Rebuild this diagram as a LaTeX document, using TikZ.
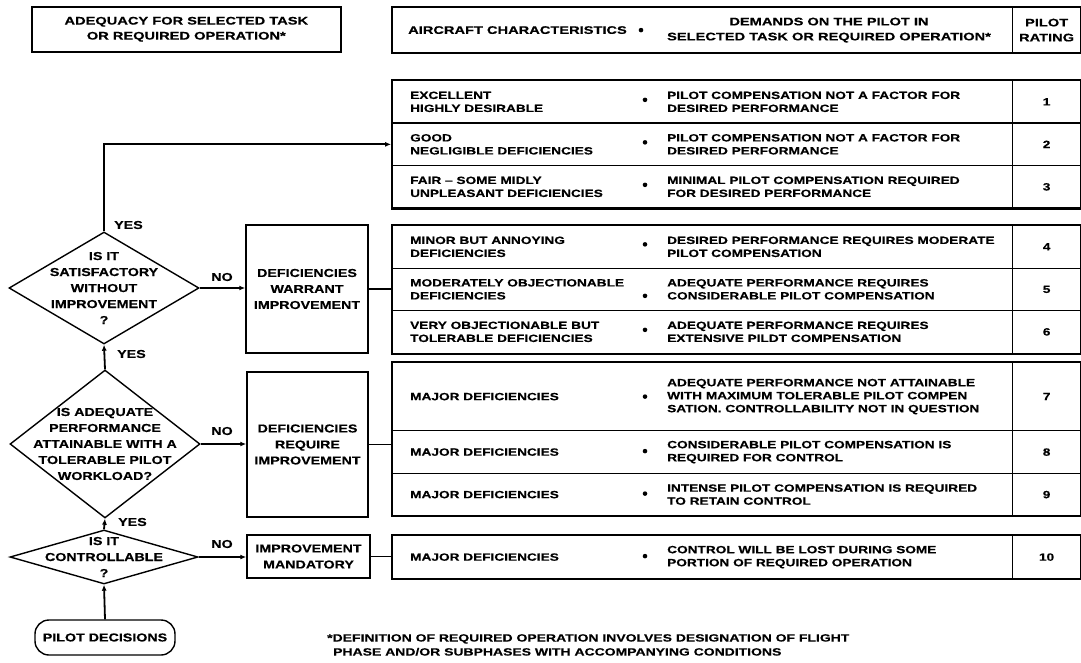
\documentclass[tikz,border=0pt]{standalone}
\usepackage{fontspec}
\setmainfont{Liberation Sans}
\newfontfamily\tabfont{Liberation Sans}[FakeStretch=1.3, FakeBold=0.4]
\newfontfamily\headfont{Liberation Sans}[FakeStretch=1.33, FakeBold=0.4]
\newfontfamily\flowfont{Liberation Sans}[FakeStretch=1.24, FakeBold=0.4]
\usetikzlibrary{shapes.geometric,arrows.meta,fit}

\tikzset{
  x=1pt, y=-1pt,
  tabtxt/.style={font=\tabfont\bfseries\fontsize{10.5}{13}\selectfont},
  headtxt/.style={font=\headfont\bfseries\fontsize{11}{15}\selectfont},
  flowtxt/.style={font=\flowfont\bfseries\fontsize{11.5}{16}\selectfont},
  cell/.style={draw, line width=1.2pt, inner sep=0pt, anchor=north west, minimum width=620pt},
  rate/.style={draw, line width=1.2pt, inner sep=0pt, anchor=north west, minimum width=68pt, tabtxt},
  grpframe/.style={draw, line width=1.8pt, inner sep=0pt},
  ltext/.style={tabtxt, anchor=west, align=left, inner sep=0pt},
  rtext/.style={tabtxt, anchor=west, align=left, inner sep=0pt},
  bul/.style={circle, fill, inner sep=0pt, minimum size=4.6pt},
  decision/.style={diamond, draw, line width=1.4pt, inner sep=0pt, minimum width=#1},
  qtext/.style={flowtxt, align=center, inner sep=0pt},
  flowbox/.style={draw, line width=1.5pt, inner sep=0pt, flowtxt, align=center},
  conn/.style={line width=1.8pt, -{Latex[length=6pt,width=5pt]}},
  link/.style={line width=1.8pt},
  answer/.style={flowtxt, inner sep=0pt},
}

% one row of the rating table: name, top, height, left text, right text, rating, bullet shift
\newcommand\ratingrow[7]{%
  \node[cell, minimum height=#3pt] (#1) at (392,#2) {};
  \node[rate, minimum height=#3pt] (#1n) at (1012,#2) {#6};
  \node[ltext] at ([xshift=18pt]#1.west) {#4};
  \node[rtext] at ([xshift=275pt]#1.west) {#5};
  \node[bul] at ([xshift=253pt,yshift=#7pt]#1.west) {};
}

\begin{document}
\begin{tikzpicture}
\useasboundingbox (0,0) rectangle (1081,663);

% column headings
\node[draw, line width=1.6pt, minimum width=309pt, minimum height=45pt, inner sep=0pt,
      anchor=north west, headtxt, align=center] (adq) at (31,6)
      {ADEQUACY FOR SELECTED TASK\\OR REQUIRED OPERATION*};

\node[cell, minimum height=45pt] (hc) at (392,7) {};
\node[rate, minimum height=45pt, headtxt, align=center] (hr) at (1012,7) {PILOT\\RATING};
\node[grpframe, fit=(hc)(hr)] (hdr) {};
\node[headtxt, anchor=west, inner sep=0pt] (hac) at ([xshift=16pt]hc.west) {AIRCRAFT CHARACTERISTICS};
\node[bul] at ([xshift=249pt]hc.west) {};
\node[headtxt, align=center, inner sep=0pt] (hdm) at ([xshift=437pt]hc.west)
      {DEMANDS ON THE PILOT IN\\SELECTED TASK OR REQUIRED OPERATION*};

% ratings 1-3
\ratingrow{r1}{80}{42.5}{EXCELLENT\\HIGHLY DESIRABLE}{PILOT COMPENSATION NOT A FACTOR FOR\\DESIRED PERFORMANCE}{1}{2}
\ratingrow{r2}{122.5}{42.5}{GOOD\\NEGLIGIBLE DEFICIENCIES}{PILOT COMPENSATION NOT A FACTOR FOR\\DESIRED PERFORMANCE}{2}{2}
\ratingrow{r3}{165}{42.5}{FAIR – SOME MIDLY\\UNPLEASANT DEFICIENCIES}{MINIMAL PILOT COMPENSATION REQUIRED\\FOR DESIRED PERFORMANCE}{3}{2}
\node[grpframe, fit=(r1)(r1n)(r3)(r3n)] (g1) {};

% ratings 4-6
\ratingrow{r4}{225}{42.5}{MINOR BUT ANNOYING\\DEFICIENCIES}{DESIRED PERFORMANCE REQUIRES MODERATE\\PILOT COMPENSATION}{4}{2.5}
\ratingrow{r5}{267.5}{42.5}{MODERATELY OBJECTIONABLE\\DEFICIENCIES}{ADEQUATE PERFORMANCE REQUIRES\\CONSIDERABLE PILOT COMPENSATION}{5}{-6.5}
\ratingrow{r6}{310}{42.5}{VERY OBJECTIONABLE BUT\\TOLERABLE DEFICIENCIES}{ADEQUATE PERFORMANCE REQUIRES\\EXTENSIVE PILDT COMPENSATION}{6}{2}
\node[grpframe, fit=(r4)(r4n)(r6)(r6n)] (g2) {};

% ratings 7-9
\ratingrow{r7}{362}{68}{MAJOR DEFICIENCIES}{ADEQUATE PERFORMANCE NOT ATTAINABLE\\WITH MAXIMUM TOLERABLE PILOT COMPEN\\SATION. CONTROLLABILITY NOT IN QUESTION}{7}{0}
\ratingrow{r8}{430}{43}{MAJOR DEFICIENCIES}{CONSIDERABLE PILOT COMPENSATION IS\\REQUIRED FOR CONTROL}{8}{1}
\ratingrow{r9}{473}{42}{MAJOR DEFICIENCIES}{INTENSE PILOT COMPENSATION IS REQUIRED\\TO RETAIN CONTROL}{9}{1}
\node[grpframe, fit=(r7)(r7n)(r9)(r9n)] (g3) {};

% rating 10
\ratingrow{r10}{535}{43}{MAJOR DEFICIENCIES}{CONTROL WILL BE LOST DURING SOME\\PORTION OF REQUIRED OPERATION}{10}{1}
\node[grpframe, fit=(r10)(r10n)] (g4) {};

% decision chain
\node[decision=190pt, minimum height=112pt,
      label={[qtext]center:{IS IT\\SATISFACTORY\\WITHOUT\\IMPROVEMENT\\?}}] (d1) at (104,288) {};
\node[decision=190pt, minimum height=148pt,
      label={[qtext]center:{IS ADEQUATE\\PERFORMANCE\\ATTAINABLE WITH A\\TOLERABLE PILOT\\WORKLOAD?}}] (d2) at (105,444) {};
\node[decision=188pt, minimum height=54pt,
      label={[qtext]center:{IS IT\\CONTROLLABLE\\?}}] (d3) at (104,557) {};
\node[draw, line width=1.4pt, rounded corners=14pt, minimum width=140pt, minimum height=35pt,
      inner sep=0pt, flowtxt] (pd) at (105,637.5) {PILOT DECISIONS};

\node[flowbox, minimum width=122pt, minimum height=128pt] (bw) at (307,289) {DEFICIENCIES\\WARRANT\\IMPROVEMENT};
\node[flowbox, minimum width=121pt, minimum height=145pt] (br) at (307.5,444.5) {DEFICIENCIES\\REQUIRE\\IMPROVEMENT};
\node[flowbox, minimum width=123pt, minimum height=43pt] (bm) at (308.5,556.5) {IMPROVEMENT\\MANDATORY};

% connectors
\draw[conn] (d1.north) |- (g1.west);
\draw[conn] (d1.east) -- (d1.east -| bw.west);
\draw[link] (bw.east) -- (bw.east -| g2.west);
\draw[conn] (d2.north) -- (d1.south);
\draw[conn] (d2.east) -- (d2.east -| br.west);
\draw[link] (br.east) -- (br.east -| g3.west);
\draw[conn] (d3.north) -- (d2.south);
\draw[conn] (d3.east) -- (d3.east -| bm.west);
\draw[link] (bm.east) -- (bm.east -| g4.west);
\draw[conn] (pd.north) -- (d3.south);

% answers
\node[answer, anchor=west] (y1) at (114,225) {YES};
\node[answer, anchor=west] (y2) at (117,354) {YES};
\node[answer, anchor=west] (y3) at (118,522) {YES};
\node[answer] (n1) at (222,277) {NO};
\node[answer] (n2) at (222,431) {NO};
\node[answer] (n3) at (222,544) {NO};

% footnote
\node[anchor=north west, align=left, inner sep=0pt, font=\headfont\bfseries\fontsize{10.5}{14}\selectfont] (fn) at (327,634)
  {*DEFINITION OF REQUIRED OPERATION INVOLVES DESIGNATION OF FLIGHT\\
   \hspace*{6pt}PHASE AND/OR SUBPHASES WITH ACCOMPANYING CONDITIONS};
\end{tikzpicture}
\end{document}
